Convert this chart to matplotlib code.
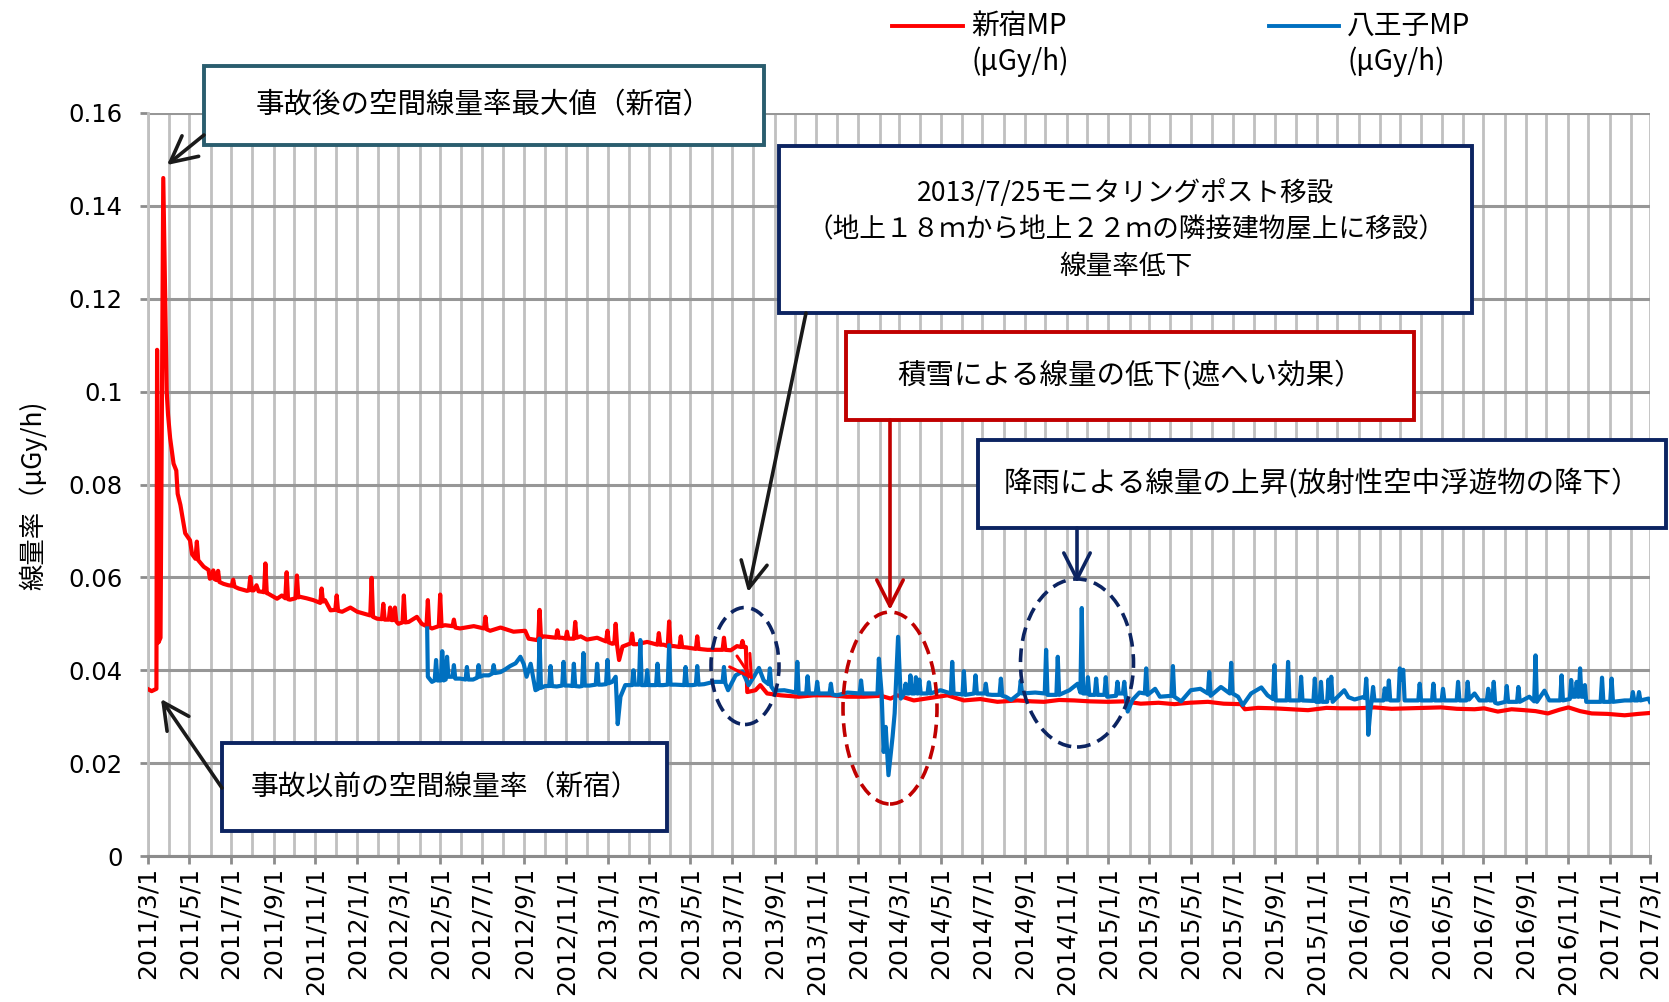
import numpy as np
import matplotlib
matplotlib.use("Agg")
import matplotlib.pyplot as plt
import matplotlib.dates as mdates
from matplotlib.patches import Rectangle, Ellipse, FancyArrowPatch
from matplotlib.lines import Line2D
from matplotlib.ticker import FuncFormatter, MultipleLocator

plt.rcParams['font.family'] = ['DejaVu Sans', 'Noto Sans CJK JP']
JP = ['Noto Sans CJK JP', 'DejaVu Sans']

# days counted from 2011/3/1
START = np.datetime64('2011-03-01')
END = np.datetime64('2017-03-01')

# Shinjuku monitoring post (red): (day, uGy/h)
shinjuku = [
    (0, 0.036), (6, 0.0355), (13, 0.036), (14, 0.109), (16, 0.046), (19, 0.047),
    (23, 0.146), (28, 0.100), (30, 0.095), (33, 0.090), (38, 0.0845), (42, 0.083),
    (44, 0.078), (48, 0.0756), (51, 0.073), (55, 0.0695), (62, 0.068), (65, 0.065),
    (70, 0.064), (72, 0.0677), (74, 0.0637), (82, 0.0623), (89, 0.0616), (91, 0.0597),
    (94, 0.0600), (96, 0.0615), (98, 0.0596), (101, 0.0594), (103, 0.0614), (105, 0.0590),
    (111, 0.0586), (118, 0.0583), (123, 0.0582), (125, 0.0595), (127, 0.0580), (133, 0.0576),
    (145, 0.0571), (148, 0.0572), (150, 0.0601), (152, 0.0572), (155, 0.0572), (159, 0.0583),
    (162, 0.0570), (167, 0.0569), (170, 0.0568), (172, 0.063), (174, 0.0566), (176, 0.0565),
    (182, 0.0560), (189, 0.0554), (196, 0.0561), (201, 0.0555), (203, 0.0611), (205, 0.0553),
    (208, 0.0552), (216, 0.0555), (218, 0.0604), (220, 0.0557), (223, 0.0558), (232, 0.0555),
    (242, 0.0551), (252, 0.0545), (254, 0.0576), (256, 0.0548), (259, 0.0551), (267, 0.0529),
    (274, 0.0530), (276, 0.0561), (278, 0.0528), (284, 0.0526), (296, 0.0535), (306, 0.0526),
    (318, 0.0521), (325, 0.0518), (327, 0.0599), (329, 0.0515), (335, 0.0511), (342, 0.0510),
    (344, 0.0543), (346, 0.0509), (349, 0.0509), (352, 0.0509), (354, 0.0535), (356, 0.0508),
    (358, 0.0508), (361, 0.0535), (363, 0.0505), (366, 0.0500), (372, 0.0503), (374, 0.0561),
    (376, 0.0503), (381, 0.0504), (393, 0.0515), (400, 0.0500), (407, 0.0495), (409, 0.0551),
    (411, 0.0493), (415, 0.0490), (425, 0.0495), (427, 0.0563), (429, 0.0495), (434, 0.0497),
    (445, 0.0495), (447, 0.0509), (449, 0.0492), (456, 0.0490), (476, 0.0495), (491, 0.0490),
    (493, 0.0515), (495, 0.0488), (500, 0.0485), (515, 0.0492), (534, 0.0483), (551, 0.0485),
    (556, 0.0468), (568, 0.0465), (570, 0.0466), (572, 0.0530), (574, 0.0470), (578, 0.0473),
    (596, 0.0470), (598, 0.0486), (600, 0.0470), (605, 0.0470), (610, 0.0468), (612, 0.0483),
    (614, 0.0468), (620, 0.0468), (622, 0.0468), (624, 0.0504), (626, 0.0470), (632, 0.0473),
    (641, 0.0466), (656, 0.0470), (669, 0.0462), (671, 0.0485), (673, 0.0460), (678, 0.0457),
    (681, 0.0458), (683, 0.0500), (685, 0.0455), (688, 0.0422), (693, 0.0451), (705, 0.0458),
    (707, 0.0479), (709, 0.0456), (714, 0.0456), (729, 0.0461), (744, 0.0455), (746, 0.0480),
    (748, 0.0455), (753, 0.0455), (759, 0.0452), (761, 0.0505), (763, 0.0452), (768, 0.0452),
    (776, 0.0450), (778, 0.0473), (780, 0.0450), (787, 0.0449), (800, 0.0446), (802, 0.0473),
    (804, 0.0446), (817, 0.0444), (839, 0.0444), (841, 0.0470), (843, 0.0444), (851, 0.0443),
    (860, 0.0452), (866, 0.0450), (868, 0.0463), (870, 0.0450), (873, 0.0450), (875, 0.0353),
    (887, 0.0357), (894, 0.0368), (904, 0.0350), (924, 0.0346), (950, 0.0343), (972, 0.0346),
    (997, 0.0346), (1020, 0.0343), (1045, 0.0343), (1070, 0.0345), (1084, 0.0339), (1094, 0.0346),
    (1118, 0.0335), (1140, 0.0340), (1167, 0.0346), (1191, 0.0335), (1215, 0.0338), (1240, 0.0332),
    (1269, 0.0335), (1290, 0.0333), (1308, 0.0332), (1330, 0.0336), (1352, 0.0335), (1375, 0.0333),
    (1401, 0.0332), (1425, 0.0333), (1449, 0.0328), (1475, 0.0330), (1498, 0.0327), (1520, 0.0330),
    (1547, 0.0332), (1570, 0.0328), (1595, 0.0327), (1601, 0.0316), (1620, 0.0319), (1644, 0.0318),
    (1670, 0.0316), (1693, 0.0314), (1720, 0.0319), (1741, 0.0318), (1765, 0.0318), (1790, 0.0320),
    (1815, 0.0317), (1839, 0.0318), (1863, 0.0319), (1887, 0.0320), (1910, 0.0317), (1936, 0.0316),
    (1950, 0.0318), (1970, 0.0311), (1990, 0.0316), (2009, 0.0314), (2025, 0.0312), (2043, 0.0307),
    (2060, 0.0315), (2073, 0.0320), (2090, 0.0312), (2107, 0.0307), (2130, 0.0306), (2155, 0.0303),
    (2175, 0.0306), (2192, 0.0308)]

# Hachioji monitoring post (blue): (day, uGy/h)
hachioji = [
    (408, 0.0490), (409, 0.0386), (415, 0.0375), (419, 0.0378), (421, 0.0422), (423, 0.0378),
    (428, 0.0378), (430, 0.0441), (432, 0.0378), (435, 0.0380), (437, 0.0429), (439, 0.0386),
    (445, 0.0386), (447, 0.0411), (449, 0.0382), (456, 0.0382), (464, 0.0380), (466, 0.0407),
    (468, 0.0380), (475, 0.0380), (481, 0.0384), (483, 0.0411), (485, 0.0386), (490, 0.0389),
    (498, 0.0389), (503, 0.0393), (505, 0.0411), (507, 0.0394), (515, 0.0396), (522, 0.0402),
    (529, 0.0409), (537, 0.0415), (544, 0.0429), (549, 0.0413), (553, 0.0386), (559, 0.0414),
    (566, 0.0357), (570, 0.0360), (572, 0.0468), (574, 0.0362), (580, 0.0366), (586, 0.0366),
    (588, 0.0409), (590, 0.0366), (597, 0.0365), (605, 0.0367), (607, 0.0418), (609, 0.0367),
    (615, 0.0367), (620, 0.0366), (622, 0.0414), (624, 0.0366), (630, 0.0365), (634, 0.0366),
    (636, 0.0437), (638, 0.0367), (645, 0.0367), (654, 0.0369), (656, 0.0414), (658, 0.0369),
    (663, 0.0369), (669, 0.0370), (671, 0.0422), (673, 0.0372), (678, 0.0375), (683, 0.0386),
    (686, 0.0284), (690, 0.0343), (697, 0.0368), (707, 0.0368), (709, 0.0400), (711, 0.0369),
    (717, 0.0369), (719, 0.0465), (721, 0.0368), (727, 0.0368), (729, 0.0400), (731, 0.0368),
    (742, 0.0368), (744, 0.0414), (746, 0.0368), (752, 0.0368), (759, 0.0369), (761, 0.0454),
    (763, 0.0369), (770, 0.0369), (783, 0.0368), (785, 0.0407), (787, 0.0368), (795, 0.0368),
    (800, 0.0369), (802, 0.0409), (804, 0.0369), (812, 0.0370), (826, 0.0375), (839, 0.0375),
    (841, 0.0407), (843, 0.0372), (847, 0.0357), (858, 0.0389), (868, 0.0397), (877, 0.0368),
    (885, 0.0387), (892, 0.0405), (899, 0.0378), (906, 0.0370), (908, 0.0404), (910, 0.0365),
    (914, 0.0356), (929, 0.0357), (946, 0.0352), (948, 0.0418), (950, 0.0350), (958, 0.0350),
    (961, 0.0350), (963, 0.0387), (965, 0.0350), (975, 0.0350), (977, 0.0375), (979, 0.0350),
    (995, 0.0350), (997, 0.0371), (999, 0.0348), (1006, 0.0346), (1021, 0.0352), (1039, 0.0350),
    (1041, 0.0378), (1043, 0.0350), (1050, 0.0350), (1065, 0.0350), (1067, 0.0425), (1071, 0.0350),
    (1074, 0.0224), (1077, 0.0278), (1081, 0.0174), (1087, 0.0257), (1090, 0.0307), (1095, 0.0472),
    (1099, 0.0339), (1104, 0.0350), (1106, 0.0371), (1108, 0.0350), (1111, 0.0350), (1113, 0.0389),
    (1115, 0.0350), (1119, 0.0350), (1121, 0.0385), (1123, 0.0350), (1124, 0.0350), (1126, 0.0380),
    (1128, 0.0350), (1138, 0.0350), (1140, 0.0374), (1142, 0.0350), (1157, 0.0357), (1172, 0.0350),
    (1174, 0.0418), (1176, 0.0350), (1189, 0.0348), (1191, 0.0398), (1193, 0.0347), (1206, 0.0350),
    (1208, 0.0389), (1210, 0.0350), (1221, 0.0350), (1223, 0.0371), (1225, 0.0348), (1232, 0.0347),
    (1243, 0.0347), (1245, 0.0382), (1247, 0.0345), (1252, 0.0343), (1260, 0.0336), (1272, 0.0350),
    (1274, 0.0378), (1276, 0.0350), (1295, 0.0352), (1309, 0.0350), (1311, 0.0444), (1313, 0.0347),
    (1326, 0.0347), (1328, 0.0429), (1330, 0.0347), (1345, 0.0357), (1357, 0.0371), (1361, 0.0352),
    (1363, 0.0534), (1365, 0.0350), (1370, 0.0350), (1372, 0.0385), (1374, 0.0347), (1382, 0.0347),
    (1384, 0.0382), (1386, 0.0347), (1396, 0.0347), (1398, 0.0385), (1400, 0.0343), (1413, 0.0345),
    (1415, 0.0375), (1417, 0.0350), (1423, 0.0350), (1425, 0.0375), (1427, 0.0345), (1430, 0.0311),
    (1437, 0.0336), (1447, 0.0352), (1455, 0.0350), (1457, 0.0404), (1459, 0.0347), (1470, 0.0360),
    (1477, 0.0343), (1494, 0.0345), (1496, 0.0409), (1498, 0.0343), (1508, 0.0333), (1522, 0.0357),
    (1536, 0.0360), (1547, 0.0350), (1549, 0.0396), (1551, 0.0345), (1566, 0.0364), (1579, 0.0350),
    (1581, 0.0416), (1583, 0.0350), (1591, 0.0343), (1598, 0.0325), (1610, 0.0350), (1625, 0.0363),
    (1634, 0.0346), (1642, 0.0338), (1644, 0.0411), (1646, 0.0335), (1662, 0.0335), (1664, 0.0418),
    (1666, 0.0335), (1681, 0.0335), (1683, 0.0386), (1685, 0.0335), (1701, 0.0334), (1703, 0.0382),
    (1705, 0.0332), (1710, 0.0332), (1712, 0.0375), (1714, 0.0332), (1721, 0.0332), (1723, 0.0380),
    (1725, 0.0340), (1727, 0.0386), (1729, 0.0332), (1746, 0.0357), (1752, 0.0342), (1761, 0.0337),
    (1773, 0.0342), (1776, 0.0340), (1778, 0.0382), (1780, 0.0330), (1781, 0.0261), (1784, 0.0314),
    (1786, 0.0335), (1788, 0.0364), (1790, 0.0335), (1803, 0.0335), (1805, 0.0361), (1807, 0.0337),
    (1809, 0.0337), (1811, 0.0378), (1813, 0.0335), (1825, 0.0335), (1827, 0.0404), (1829, 0.0380),
    (1832, 0.0401), (1834, 0.0335), (1854, 0.0335), (1856, 0.0371), (1858, 0.0335), (1874, 0.0335),
    (1876, 0.0371), (1878, 0.0335), (1888, 0.0335), (1890, 0.0360), (1892, 0.0335), (1910, 0.0335),
    (1912, 0.0375), (1914, 0.0335), (1924, 0.0335), (1926, 0.0375), (1928, 0.0337), (1936, 0.0350),
    (1943, 0.0335), (1954, 0.0335), (1956, 0.0360), (1958, 0.0335), (1962, 0.0335), (1964, 0.0375),
    (1966, 0.0330), (1970, 0.0328), (1981, 0.0332), (1983, 0.0366), (1985, 0.0332), (1998, 0.0332),
    (2000, 0.0364), (2002, 0.0332), (2016, 0.0343), (2023, 0.0333), (2025, 0.0432), (2027, 0.0332),
    (2038, 0.0356), (2045, 0.0335), (2061, 0.0335), (2063, 0.0389), (2065, 0.0335), (2075, 0.0338),
    (2077, 0.0379), (2079, 0.0343), (2083, 0.0343), (2085, 0.0375), (2087, 0.0343), (2088, 0.0343),
    (2090, 0.0404), (2092, 0.0343), (2095, 0.0343), (2097, 0.0368), (2099, 0.0332), (2120, 0.0332),
    (2122, 0.0384), (2124, 0.0332), (2134, 0.0332), (2136, 0.0382), (2138, 0.0332), (2155, 0.0335),
    (2165, 0.0335), (2167, 0.0353), (2169, 0.0335), (2174, 0.0335), (2176, 0.0353), (2178, 0.0335),
    (2190, 0.0339), (2192, 0.0332)]

legend_labels = ['新宿MP\n(μGy/h)', '八王子MP\n(μGy/h)']
y_label = '線量率（μGy/h)'

W, H = 1669, 1002


def fxy(x, y):
    # pixel position (from top-left) -> figure fraction
    return (x / W, 1 - y / H)


fig = plt.figure(figsize=(W / 100, H / 100), dpi=100)
ax = fig.add_axes([147.5 / W, 1 - 856 / H, (1650 - 147.5) / W, (856 - 113) / H])

s_day, s_val = zip(*shinjuku)
h_day, h_val = zip(*hachioji)
x_s = START + np.array(s_day).astype('timedelta64[D]')
x_h = START + np.array(h_day).astype('timedelta64[D]')
ax.plot(x_s, s_val, color='#ff0000', lw=3.0, zorder=3)
ax.plot(x_h, h_val, color='#0070c0', lw=3.0, zorder=4)

ax.set_xlim(START, END)
ax.set_ylim(0, 0.16)
ax.yaxis.set_major_locator(MultipleLocator(0.02))
ax.yaxis.set_major_formatter(FuncFormatter(lambda v, p: f'{v:g}'))
ax.xaxis.set_major_locator(mdates.MonthLocator(bymonth=[1, 3, 5, 7, 9, 11]))
ax.xaxis.set_minor_locator(mdates.MonthLocator())


def date_fmt(v, p):
    d = mdates.num2date(v)
    return f'{d.year}/{d.month}/{d.day}'


ax.xaxis.set_major_formatter(FuncFormatter(date_fmt))

ax.set_axisbelow(True)
ax.grid(axis='y', which='major', color='#979797', lw=2.2)
ax.grid(axis='x', which='both', color='#c0c0c0', lw=2.0)
for s in ['top', 'right']:
    ax.spines[s].set_visible(False)
ax.spines['bottom'].set_color('#8c8c8c')
ax.spines['bottom'].set_linewidth(2.2)
ax.spines['left'].set_color('#c0c0c0')
ax.spines['left'].set_linewidth(2.0)
ax.tick_params(axis='y', length=6, width=2, color='#8c8c8c', labelsize=17.5, pad=12)
ax.tick_params(axis='x', which='major', length=6, width=2, color='#8c8c8c',
               labelsize=18, labelrotation=90, pad=2)
ax.tick_params(axis='x', which='minor', length=0)

ax.set_ylabel(y_label, fontsize=19, family=JP)
ax.yaxis.set_label_coords(-0.067, 0.485)

# legend above the plot
for (x1, x2, xt), color, lab in zip([(892, 963, 971), (1269, 1339, 1347)],
                                     ['#ff0000', '#0070c0'], legend_labels):
    a, b = fxy(x1, 26), fxy(x2, 26)
    fig.add_artist(Line2D([a[0], b[0]], [a[1], b[1]], color=color, lw=2.8,
                          transform=fig.transFigure))
    top, bottom = lab.split('\n')
    fig.text(*fxy(xt, 26), top, fontsize=20, family=JP, va='center')
    fig.text(*fxy(xt, 62), bottom, fontsize=20, family=JP, va='center')

# annotation boxes: (left, top, right, bottom) in pixels
NAVY = '#0c2461'
DRED = '#c00000'
TEAL = '#2a5d6e'
boxes = [
    ((204, 66, 764, 145), TEAL, '事故後の空間線量率最大値（新宿）', 20.5),
    ((779, 146, 1472, 313), NAVY,
     '2013/7/25モニタリングポスト移設\n（地上１８ｍから地上２２ｍの隣接建物屋上に移設）\n線量率低下', 19.2),
    ((846, 332, 1414, 420), DRED, '積雪による線量の低下(遮へい効果）', 20.5),
    ((978, 440, 1666, 528), NAVY, '降雨による線量の上昇(放射性空中浮遊物の降下）', 20.5),
    ((222, 743, 667, 831), NAVY, '事故以前の空間線量率（新宿）', 20),
]
for (l, t, r, b), color, txt, fs in boxes:
    x0, y0 = fxy(l, b)
    x1, y1 = fxy(r, t)
    fig.add_artist(Rectangle((x0, y0), x1 - x0, y1 - y0, transform=fig.transFigure,
                             facecolor='white', edgecolor=color, lw=2.8, zorder=5))
    fig.text((x0 + x1) / 2, (y0 + y1) / 2, txt, fontsize=fs, family=JP,
             ha='center', va='center', linespacing=1.45, zorder=6)

# arrows: start, end, color
arrows = [
    ((204, 135), (167, 165), '#1a1a1a'),
    ((806, 313), (748, 592), '#1a1a1a'),
    ((890, 420), (890, 610), DRED),
    ((1077, 528), (1077, 583), NAVY),
    ((222, 788), (161, 699), '#1a1a1a'),
]
for p0, p1, color in arrows:
    fig.add_artist(FancyArrowPatch(fxy(*p0), fxy(*p1), transform=fig.transFigure,
                                   arrowstyle='->,head_length=0.75,head_width=0.38',
                                   mutation_scale=25, lw=2.6, color=color,
                                   shrinkA=0, shrinkB=0, zorder=6))
fig.add_artist(FancyArrowPatch(fxy(737, 656), fxy(753, 680), transform=fig.transFigure,
                               arrowstyle='->,head_length=0.6,head_width=0.35',
                               mutation_scale=25, lw=2.2, color='#ff0000',
                               shrinkA=0, shrinkB=0, zorder=6))

# dashed ellipses: centre, width, height
ellipses = [
    ((745, 666), 68, 117, NAVY),
    ((890, 708), 94, 192, DRED),
    ((1077, 663), 113, 168, NAVY),
]
for (cx, cy), w, h, color in ellipses:
    fig.add_artist(Ellipse(fxy(cx, cy), w / W, h / H, transform=fig.transFigure,
                           fill=False, edgecolor=color, lw=2.6,
                           linestyle=(0, (3.8, 2.1)), zorder=6))

fig.savefig('out.png', dpi=100)
